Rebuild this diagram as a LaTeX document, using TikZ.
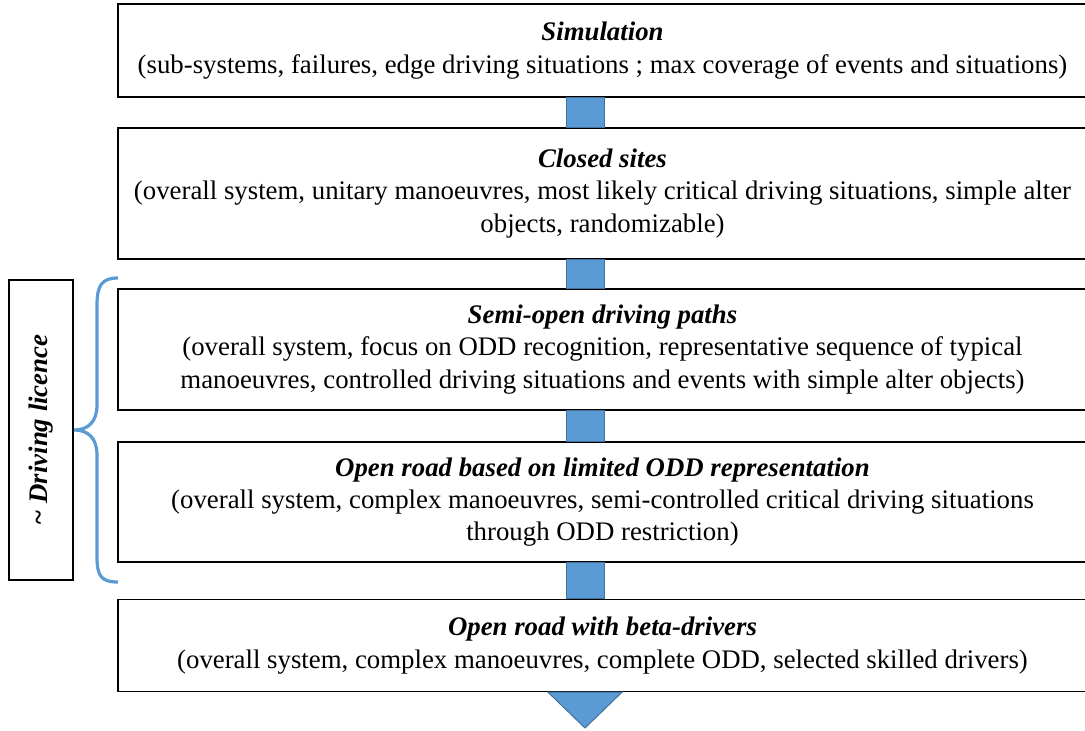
\documentclass[tikz,border=0pt]{standalone}
\usepackage{fontspec}
\setmainfont{Liberation Serif}
\definecolor{arrowblue}{HTML}{5B9BD5}
\definecolor{arrowedge}{HTML}{41719C}
\begin{document}
\begin{tikzpicture}[x=1pt,y=-1pt,
  stage/.style={draw=black,line width=1.4pt,fill=white,inner sep=0pt,align=center,
    font=\fontsize{26.8}{32.3}\selectfont},
  link/.style={fill=arrowblue,draw=arrowedge,line width=1pt},
  side/.style={draw=black,line width=1.4pt,inner sep=0pt,align=center}]
\useasboundingbox (0,0) rectangle (1085,731);
% stage boxes
\node[stage,minimum width=969pt,minimum height=93pt] (s1) at (602.5,50.5)
  {\textbf{\textit{Simulation}}\\(sub-systems, failures, edge driving situations ; max coverage of events and situations)};
\node[stage,minimum width=969pt,minimum height=131pt] (s2) at (602.5,193.5)
  {\textbf{\textit{Closed sites}}\\(overall system, unitary manoeuvres, most likely critical driving situations, simple alter\\objects, randomizable)};
\node[stage,minimum width=969pt,minimum height=121pt] (s3) at (602.5,349.5)
  {\textbf{\textit{Semi-open driving paths}}\\(overall system, focus on ODD recognition, representative sequence of typical\\manoeuvres, controlled driving situations and events with simple alter objects)};
\node[stage,minimum width=969pt,minimum height=120pt] (s4) at (602.5,502)
  {\textbf{\textit{Open road based on limited ODD representation}}\\(overall system, complex manoeuvres, semi-controlled critical driving situations\\through ODD restriction)};
\node[stage,minimum width=969pt,minimum height=92pt] (s5) at (602.5,645.5)
  {\textbf{\textit{Open road with beta-drivers}}\\(overall system, complex manoeuvres, complete ODD, selected skilled drivers)};
% connectors
\foreach \a/\b in {s1/s2,s2/s3,s3/s4,s4/s5}{
  \draw[link] (566,0 |- \a.south) rectangle (604,0 |- \b.north);
}
\coordinate (tl) at (548,0 |- s5.south);
\coordinate (tr) at (622,0 |- s5.south);
\coordinate (tip) at (585,728);
\draw[link,line join=miter] (tl) -- (tr) -- (tip) -- cycle;
% side label
\node[side,minimum width=64pt,minimum height=300pt] (lic) at (41,430) {};
\node[rotate=90,font=\fontsize{26.8}{30}\selectfont\bfseries\itshape] (lictext) at (lic.center) {\char"7E\ Driving licence};
% brace
\coordinate (btop) at (118,278);
\coordinate (bbot) at (118,582);
\coordinate (btip) at (74,430);
\draw[arrowblue,line width=3.2pt,line cap=butt]
  (btop) .. controls (102,278) and (97,285) .. (97,305)
  -- (97,405) .. controls (97,422) and (88,430) .. (btip)
  .. controls (88,430) and (97,438) .. (97,455)
  -- (97,557) .. controls (97,577) and (102,582) .. (bbot);
\end{tikzpicture}
\end{document}
